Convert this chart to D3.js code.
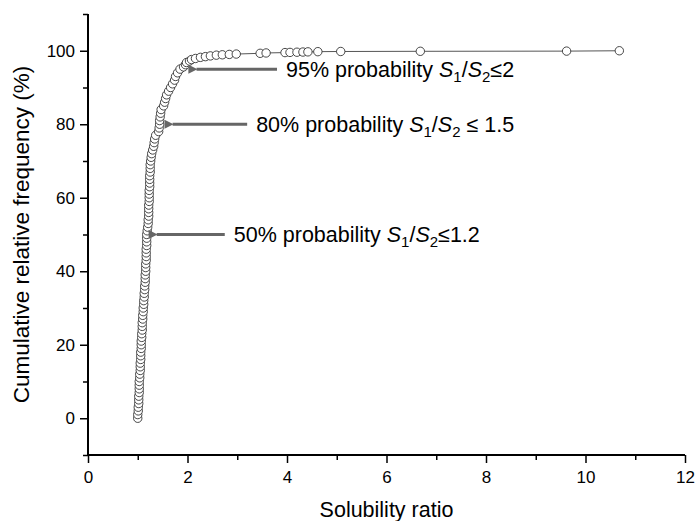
<!DOCTYPE html>
<html>
<head>
<meta charset="utf-8">
<script src="https://cdn.jsdelivr.net/npm/d3@7"></script>
<style>
  body { margin: 0; background: #fff; }
  svg { display: block; font-family: "Liberation Sans", Arial, sans-serif; }
</style>
</head>
<body>
<div id="chart"></div>
<script>
// solubility ratio S1/S2 (x) and cumulative relative frequency in % (y)
const ratios = [
  1.00, 1.00, 1.01, 1.01, 1.02, 1.02, 1.02, 1.03, 1.03, 1.03,
  1.03, 1.04, 1.04, 1.05, 1.05, 1.05, 1.06, 1.06, 1.06, 1.07,
  1.07, 1.07, 1.08, 1.08, 1.09, 1.09, 1.09, 1.10, 1.10, 1.11,
  1.11, 1.12, 1.12, 1.13, 1.13, 1.14, 1.14, 1.15, 1.15, 1.15,
  1.16, 1.16, 1.16, 1.17, 1.17, 1.17, 1.17, 1.18, 1.18, 1.18,
  1.18, 1.19, 1.20, 1.21, 1.21, 1.22, 1.22, 1.22, 1.22, 1.23,
  1.23, 1.23, 1.23, 1.24, 1.24, 1.24, 1.24, 1.25, 1.25, 1.25,
  1.26, 1.27, 1.28, 1.30, 1.32, 1.33, 1.34, 1.36, 1.42, 1.43,
  1.44, 1.44, 1.45, 1.46, 1.47, 1.52, 1.54, 1.56, 1.58, 1.62,
  1.66, 1.70, 1.74, 1.76, 1.80, 1.85, 1.92, 1.96, 1.98, 2.04,
  2.08, 2.16, 2.26, 2.36, 2.46, 2.58, 2.70, 2.84, 2.98, 3.46,
  3.58, 3.96, 4.06, 4.20, 4.32, 4.42, 4.62, 5.08, 6.68, 9.62,
  10.68
];
const cumFreq = [
  0, 1, 2, 3, 4, 5, 6, 7, 8, 9,
  10, 11, 12, 13, 14, 15, 16, 17, 18, 19,
  20, 21, 22, 23, 24, 25, 26, 27, 28, 29,
  30, 31, 32, 33, 34, 35, 36, 37, 38, 39,
  40, 41, 42, 43, 44, 45, 46, 47, 48, 49,
  50, 51, 52, 53, 54, 55, 56, 57, 58, 59,
  60, 61, 62, 63, 64, 65, 66, 67, 68, 69,
  70, 71, 72, 73, 74, 75, 76, 77, 78, 79,
  80, 81, 82, 83, 84, 85, 86, 87, 88, 89,
  90, 91, 92, 93, 94, 95, 95.6, 96.2, 96.8, 97.2,
  97.6, 97.9, 98.2, 98.4, 98.6, 98.8, 98.9, 99.0, 99.1, 99.3,
  99.4, 99.5, 99.55, 99.6, 99.65, 99.7, 99.75, 99.8, 99.85, 99.9,
  100
];

const xTicks = [0, 2, 4, 6, 8, 10, 12];
const xMinorTicks = [1, 3, 5, 7, 9, 11];
const yTicks = [0, 20, 40, 60, 80, 100];
const yMinorTicks = [-10, 10, 30, 50, 70, 90, 110];

// annotations: percent level, ratio where arrow points, where the label starts
const notes = [
  { level: 95, tip: 2.0, x0: 3.98, text: '95% probability ', op: '≤', value: '2' },
  { level: 80, tip: 1.52, x0: 3.38, text: '80% probability ', op: ' ≤ ', value: '1.5' },
  { level: 50, tip: 1.2, x0: 2.93, text: '50% probability ', op: '≤', value: '1.2' }
];

const width = 696, height = 521;
const margin = { top: 14, right: 11, bottom: 66, left: 88 };

const svg = d3.select('#chart').append('svg')
    .attr('width', width)
    .attr('height', height);

const x = d3.scaleLinear().domain([0, 12]).range([margin.left, width - margin.right]);
const y = d3.scaleLinear().domain([-10, 110]).range([height - margin.bottom, margin.top]);

const points = ratios.map((r, i) => ({ r, f: cumFreq[i] }));

// axes
const xAxis = svg.append('g')
    .attr('transform', `translate(0,${y(-10)})`)
    .call(d3.axisBottom(x).tickValues(xTicks).tickSize(8).tickPadding(8).tickFormat(d3.format('d')));
svg.append('g')
    .attr('transform', `translate(0,${y(-10)})`)
    .call(d3.axisBottom(x).tickValues(xMinorTicks).tickSize(5).tickFormat(''))
    .select('.domain').remove();

const yAxis = svg.append('g')
    .attr('transform', `translate(${x(0)},0)`)
    .call(d3.axisLeft(y).tickValues(yTicks).tickSize(8).tickPadding(5).tickFormat(d3.format('d')));
svg.append('g')
    .attr('transform', `translate(${x(0)},0)`)
    .call(d3.axisLeft(y).tickValues(yMinorTicks).tickSize(5).tickFormat(''))
    .select('.domain').remove();

xAxis.select('.domain').attr('d', `M${x(0)},0H${x(12)}`);
yAxis.select('.domain').attr('d', `M0,${y(110)}V${y(-10)}`);
svg.selectAll('.domain').attr('stroke', '#000').attr('stroke-width', 2);
svg.selectAll('.tick line').attr('stroke', '#000').attr('stroke-width', 1.5);
svg.selectAll('.tick text').attr('font-size', 17).attr('fill', '#000')
    .attr('font-family', '"Liberation Sans", Arial, sans-serif');

// axis titles
svg.append('text')
    .attr('x', x(6))
    .attr('y', 517)
    .attr('text-anchor', 'middle')
    .attr('font-size', 21.5)
    .text('Solubility ratio');

svg.append('text')
    .attr('transform', `translate(29,${y(50)}) rotate(-90)`)
    .attr('text-anchor', 'middle')
    .attr('font-size', 22.5)
    .text('Cumulative relative frequency (%)');

// series line and markers
const line = d3.line().x(d => x(d.r)).y(d => y(d.f));
svg.append('path')
    .datum(points)
    .attr('d', line)
    .attr('fill', 'none')
    .attr('stroke', '#555')
    .attr('stroke-width', 1);

svg.append('g')
  .selectAll('circle')
  .data(points)
  .join('circle')
    .attr('cx', d => x(d.r))
    .attr('cy', d => y(d.f))
    .attr('r', 4.2)
    .attr('fill', '#fff')
    .attr('stroke', '#333')
    .attr('stroke-width', 0.9);

// arrows
svg.append('defs').append('marker')
    .attr('id', 'head')
    .attr('viewBox', '0 0 10 10')
    .attr('refX', 1)
    .attr('refY', 5)
    .attr('markerWidth', 4)
    .attr('markerHeight', 3)
    .attr('orient', 'auto-start-reverse')
  .append('path')
    .attr('d', 'M0,5L10,0L10,10Z')
    .attr('fill', '#666');

svg.append('g')
  .selectAll('line')
  .data(notes)
  .join('line')
    .attr('x1', d => x(d.x0) - 9)
    .attr('x2', d => x(d.tip) + 9)
    .attr('y1', d => y(d.level))
    .attr('y2', d => y(d.level))
    .attr('stroke', '#666')
    .attr('stroke-width', 3)
    .attr('marker-end', 'url(#head)');

const labels = svg.append('g')
  .selectAll('text')
  .data(notes)
  .join('text')
    .attr('x', d => x(d.x0))
    .attr('y', d => y(d.level) + 7.5)
    .attr('font-size', 21.5)
    .attr('fill', '#000');

labels.each(function (d) {
  const t = d3.select(this);
  t.append('tspan').text(d.text);
  t.append('tspan').attr('font-style', 'italic').text('S');
  t.append('tspan').attr('font-size', 15).attr('dy', 5).text('1');
  t.append('tspan').attr('dy', -5).text('/');
  t.append('tspan').attr('font-style', 'italic').text('S');
  t.append('tspan').attr('font-size', 15).attr('dy', 5).text('2');
  t.append('tspan').attr('dy', -5).text(d.op + d.value);
});
</script>
</body>
</html>
